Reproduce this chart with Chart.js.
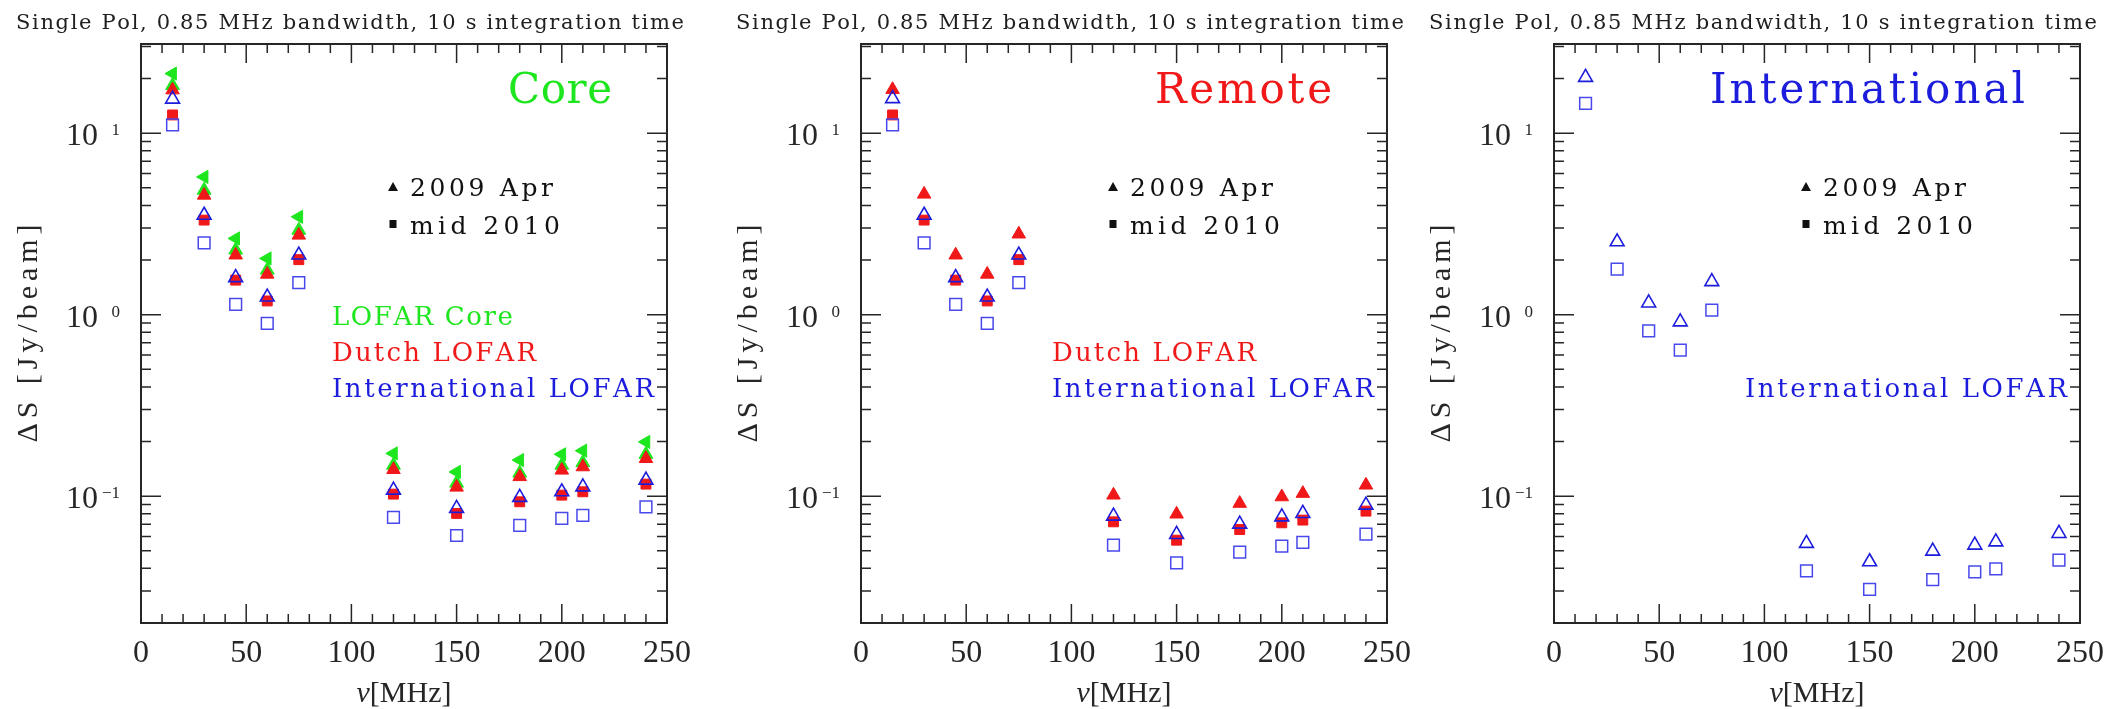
<!DOCTYPE html>
<html><head><meta charset="utf-8">
<script src="https://cdn.jsdelivr.net/npm/chart.js@4.4.1/dist/chart.umd.min.js"></script>
<style>
html,body{margin:0;padding:0;background:#fff;width:2112px;height:709px;overflow:hidden;position:relative}
canvas{position:absolute;top:0}
</style></head><body>
<canvas id="c1" width="699" height="709" style="left:0px"></canvas>
<canvas id="c2" width="699" height="709" style="left:720px"></canvas>
<canvas id="c3" width="699" height="709" style="left:1413px"></canvas>
<script>
// ---------------- DATA ----------------
const freqs = [15, 30, 45, 60, 75, 120, 150, 180, 200, 210, 240];

// Panel 1: Core
const coreGreenLeft = [21.3, 5.74, 2.63, 2.04, 3.46, 0.172, 0.136, 0.158, 0.170, 0.178, 0.199];
const coreGreenTri  = [18.3, 4.85, 2.27, 1.76, 2.92, 0.148, 0.118, 0.134, 0.148, 0.153, 0.170];
const coreRedTri    = [17.3, 4.55, 2.13, 1.67, 2.74, 0.140, 0.112, 0.128, 0.139, 0.145, 0.161];
const coreRedSq     = [12.6, 3.32, 1.55, 1.19, 2.01, 0.1026, 0.0803, 0.0931, 0.1013, 0.1057, 0.1165];
const coreBlueTri   = [15.4, 3.53, 1.60, 1.25, 2.13, 0.108, 0.0856, 0.0984, 0.1057, 0.1125, 0.1225];
const coreBlueSq    = [11.1, 2.49, 1.14, 0.895, 1.50, 0.0763, 0.0607, 0.0690, 0.0754, 0.0783, 0.0873];

// Panel 2: Remote
const remRedTri  = [17.4, 4.61, 2.13, 1.67, 2.78, 0.1013, 0.0796, 0.0912, 0.0991, 0.1035, 0.115];
const remRedSq   = [12.6, 3.32, 1.55, 1.19, 2.01, 0.0722, 0.0572, 0.0655, 0.0713, 0.0738, 0.0827];
const remBlueTri = [15.5, 3.53, 1.60, 1.25, 2.13, 0.0776, 0.0615, 0.0701, 0.0769, 0.0803, 0.0892];
const remBlueSq  = [11.1, 2.49, 1.14, 0.895, 1.50, 0.0537, 0.0429, 0.0491, 0.0530, 0.0556, 0.0617];

// Panel 3: International
const intBlueTri = [20.3, 2.52, 1.16, 0.913, 1.52, 0.0549, 0.0435, 0.0498, 0.0537, 0.0560, 0.0623];
const intBlueSq  = [14.6, 1.78, 0.814, 0.637, 1.06, 0.0388, 0.0306, 0.0347, 0.0383, 0.0398, 0.0444];

// Axes / ticks
const xMajorTicks = [0, 50, 100, 150, 200, 250];
const xTickLabels = ['0', '50', '100', '150', '200', '250'];
const xMinorTicks = [10,20,30,40,60,70,80,90,110,120,130,140,160,170,180,190,210,220,230,240];
const yMajorTicks = [0.1, 1, 10];
const yTickExp = ['\u22121', '0', '1'];
const yMinorTicks = [0.02,0.03,0.04,0.05,0.06,0.07,0.08,0.09,0.2,0.3,0.4,0.5,0.6,0.7,0.8,0.9,2,3,4,5,6,7,8,9,20,30];
const xRange = [0, 250];
const yRange = [0.02, 31];

const titleText = 'Single Pol, 0.85 MHz bandwidth, 10 s integration time';
const yTitle = '\u0394S [Jy/beam]';
const xTitleSym = '\u03BD';
const xTitleUnit = '[MHz]';
const legendTexts = ['2009 Apr', 'mid 2010'];

// ---------------- STYLE ----------------
const GREEN = '#1ee61e', RED = '#f01818', BLUE = '#1c1cdc', BLUE2 = '#4848ec', INK = '#262626';

function pts(vals) { return freqs.map((f, i) => ({x: f, y: vals[i]})); }

function ds(label, vals, style, order) {
  const base = {label, data: pts(vals), order, pointHoverRadius: 0};
  if (style === 'gleft') return Object.assign(base, {pointStyle:'triangle', rotation:-90, pointRadius:7.6, backgroundColor:GREEN, borderColor:GREEN, borderWidth:1});
  if (style === 'gtri') return Object.assign(base, {pointStyle:'triangle', pointRadius:8, backgroundColor:GREEN, borderColor:GREEN, borderWidth:1});
  if (style === 'rtri') return Object.assign(base, {pointStyle:'triangle', pointRadius:7.8, backgroundColor:RED, borderColor:RED, borderWidth:1});
  if (style === 'rsq') return Object.assign(base, {pointStyle:'rect', pointRadius:7, backgroundColor:RED, borderColor:RED, borderWidth:1});
  if (style === 'btri') return Object.assign(base, {pointStyle:'triangle', pointRadius:8, backgroundColor:'rgba(0,0,0,0)', borderColor:BLUE, borderWidth:1.6});
  if (style === 'bsq') return Object.assign(base, {pointStyle:'rect', pointRadius:8.3, backgroundColor:'rgba(0,0,0,0)', borderColor:BLUE2, borderWidth:1.5});
}

function fitText(ctx, str, x, y, w, font, color, align) {
  ctx.save();
  ctx.font = font; ctx.fillStyle = color; ctx.textBaseline = 'alphabetic'; ctx.textAlign = 'left';
  const chars = [...str];
  const ws = chars.map(c => ctx.measureText(c).width);
  const nat = ws.reduce((a, b) => a + b, 0);
  const sp = chars.length > 1 ? (w - nat) / (chars.length - 1) : 0;
  let x0 = align === 'right' ? x - w : (align === 'center' ? x - w / 2 : x);
  chars.forEach((c, i) => { ctx.fillText(c, x0, y); x0 += ws[i] + sp; });
  ctx.restore();
}

function makeFramePlugin(cfg) {
  return {
    id: 'pgframe',
    afterDatasetsDraw(chart) {
      const ctx = chart.ctx, a = chart.chartArea, xs = chart.scales.x, ys = chart.scales.y;
      ctx.save();
      ctx.strokeStyle = INK; ctx.lineWidth = 2;
      ctx.strokeRect(a.left, a.top, a.right - a.left, a.bottom - a.top);
      ctx.lineWidth = 1.5;
      ctx.beginPath();
      xMajorTicks.forEach(v => { const p = xs.getPixelForValue(v);
        ctx.moveTo(p, a.bottom); ctx.lineTo(p, a.bottom - 19); ctx.moveTo(p, a.top); ctx.lineTo(p, a.top + 19); });
      xMinorTicks.forEach(v => { const p = xs.getPixelForValue(v);
        ctx.moveTo(p, a.bottom); ctx.lineTo(p, a.bottom - 9); ctx.moveTo(p, a.top); ctx.lineTo(p, a.top + 9); });
      yMajorTicks.forEach(v => { const p = ys.getPixelForValue(v);
        ctx.moveTo(a.left, p); ctx.lineTo(a.left + 20, p); ctx.moveTo(a.right, p); ctx.lineTo(a.right - 20, p); });
      yMinorTicks.forEach(v => { const p = ys.getPixelForValue(v);
        ctx.moveTo(a.left, p); ctx.lineTo(a.left + 10, p); ctx.moveTo(a.right, p); ctx.lineTo(a.right - 10, p); });
      ctx.stroke();
      ctx.restore();

      ctx.save();
      ctx.fillStyle = INK; ctx.font = '32px "Liberation Serif"'; ctx.textAlign = 'center'; ctx.textBaseline = 'alphabetic';
      xMajorTicks.forEach((v, i) => ctx.fillText(xTickLabels[i], xs.getPixelForValue(v), a.bottom + 39));
      yMajorTicks.forEach((v, i) => {
        const p = ys.getPixelForValue(v);
        ctx.font = '17px "Liberation Serif"'; ctx.textAlign = 'right';
        ctx.fillText(yTickExp[i], a.left - 21, p + 2);
        ctx.font = '32px "Liberation Serif"';
        ctx.fillText('10', a.left - 43, p + 12);
      });
      ctx.restore();

      ctx.save();
      ctx.translate(a.left - 104, (a.top + a.bottom) / 2);
      ctx.rotate(-Math.PI / 2);
      fitText(ctx, yTitle, 0, 0, 218, '30px "Liberation Serif"', INK, 'center');
      ctx.restore();
      ctx.save();
      const cx = (a.left + a.right) / 2;
      ctx.fillStyle = INK; ctx.textBaseline = 'alphabetic'; ctx.textAlign = 'left';
      ctx.font = 'italic 30px "Liberation Serif"';
      const w1 = ctx.measureText(xTitleSym).width;
      ctx.font = '30px "Liberation Serif"';
      const w2 = ctx.measureText(xTitleUnit).width;
      const sx = cx - (w1 + w2) / 2;
      ctx.font = 'italic 30px "Liberation Serif"'; ctx.fillText(xTitleSym, sx, a.bottom + 79);
      ctx.font = '30px "Liberation Serif"'; ctx.fillText(xTitleUnit, sx + w1, a.bottom + 79);
      ctx.restore();

      fitText(ctx, titleText, a.left - 125, 29, 668, '21px "DejaVu Serif"', '#202020', 'left');
      fitText(ctx, cfg.big, a.right - 55, 103, cfg.bigW, '42px "DejaVu Serif"', cfg.bigColor, 'right');

      ctx.save();
      ctx.fillStyle = '#111';
      const mx = a.left + 252;
      ctx.beginPath(); ctx.moveTo(mx, 182); ctx.lineTo(mx + 5, 191); ctx.lineTo(mx - 5, 191); ctx.closePath(); ctx.fill();
      ctx.fillRect(mx - 3.5, 220, 7, 8);
      ctx.restore();
      fitText(ctx, legendTexts[0], a.left + 269, 196, 143, '25px "DejaVu Serif"', '#111', 'left');
      fitText(ctx, legendTexts[1], a.left + 269, 234, 150, '25px "DejaVu Serif"', '#111', 'left');

      cfg.labels.forEach(l => fitText(ctx, l.t, a.left + 191, l.y, l.w, '26px "DejaVu Serif"', l.c, 'left'));
    }
  };
}

function makeChart(id, datasets, cfg) {
  return new Chart(document.getElementById(id), {
    type: 'scatter',
    data: {datasets},
    options: {
      responsive: false, animation: false, devicePixelRatio: 1, events: [],
      layout: {padding: {left: 141, right: 32, top: 44, bottom: 86}},
      plugins: {legend: {display: false}, tooltip: {enabled: false}},
      scales: {
        x: {type: 'linear', min: xRange[0], max: xRange[1], display: false},
        y: {type: 'logarithmic', min: yRange[0], max: yRange[1], display: false}
      }
    },
    plugins: [makeFramePlugin(cfg)]
  });
}

makeChart('c1', [
  ds('Core (left)', coreGreenLeft, 'gleft', 6),
  ds('Core 2009 Apr', coreGreenTri, 'gtri', 5),
  ds('Dutch 2009 Apr', coreRedTri, 'rtri', 4),
  ds('Dutch mid 2010', coreRedSq, 'rsq', 3),
  ds('International 2009 Apr', coreBlueTri, 'btri', 2),
  ds('International mid 2010', coreBlueSq, 'bsq', 1)
], {big: 'Core', bigW: 104, bigColor: GREEN, labels: [
  {t: 'LOFAR Core', y: 325, w: 181, c: GREEN},
  {t: 'Dutch LOFAR', y: 361, w: 204, c: RED},
  {t: 'International LOFAR', y: 397, w: 322, c: BLUE}]});

makeChart('c2', [
  ds('Dutch 2009 Apr', remRedTri, 'rtri', 4),
  ds('Dutch mid 2010', remRedSq, 'rsq', 3),
  ds('International 2009 Apr', remBlueTri, 'btri', 2),
  ds('International mid 2010', remBlueSq, 'bsq', 1)
], {big: 'Remote', bigW: 177, bigColor: RED, labels: [
  {t: 'Dutch LOFAR', y: 361, w: 204, c: RED},
  {t: 'International LOFAR', y: 397, w: 322, c: BLUE}]});

makeChart('c3', [
  ds('International 2009 Apr', intBlueTri, 'btri', 2),
  ds('International mid 2010', intBlueSq, 'bsq', 1)
], {big: 'International', bigW: 315, bigColor: BLUE, labels: [
  {t: 'International LOFAR', y: 397, w: 322, c: BLUE}]});
</script>
</body></html>
